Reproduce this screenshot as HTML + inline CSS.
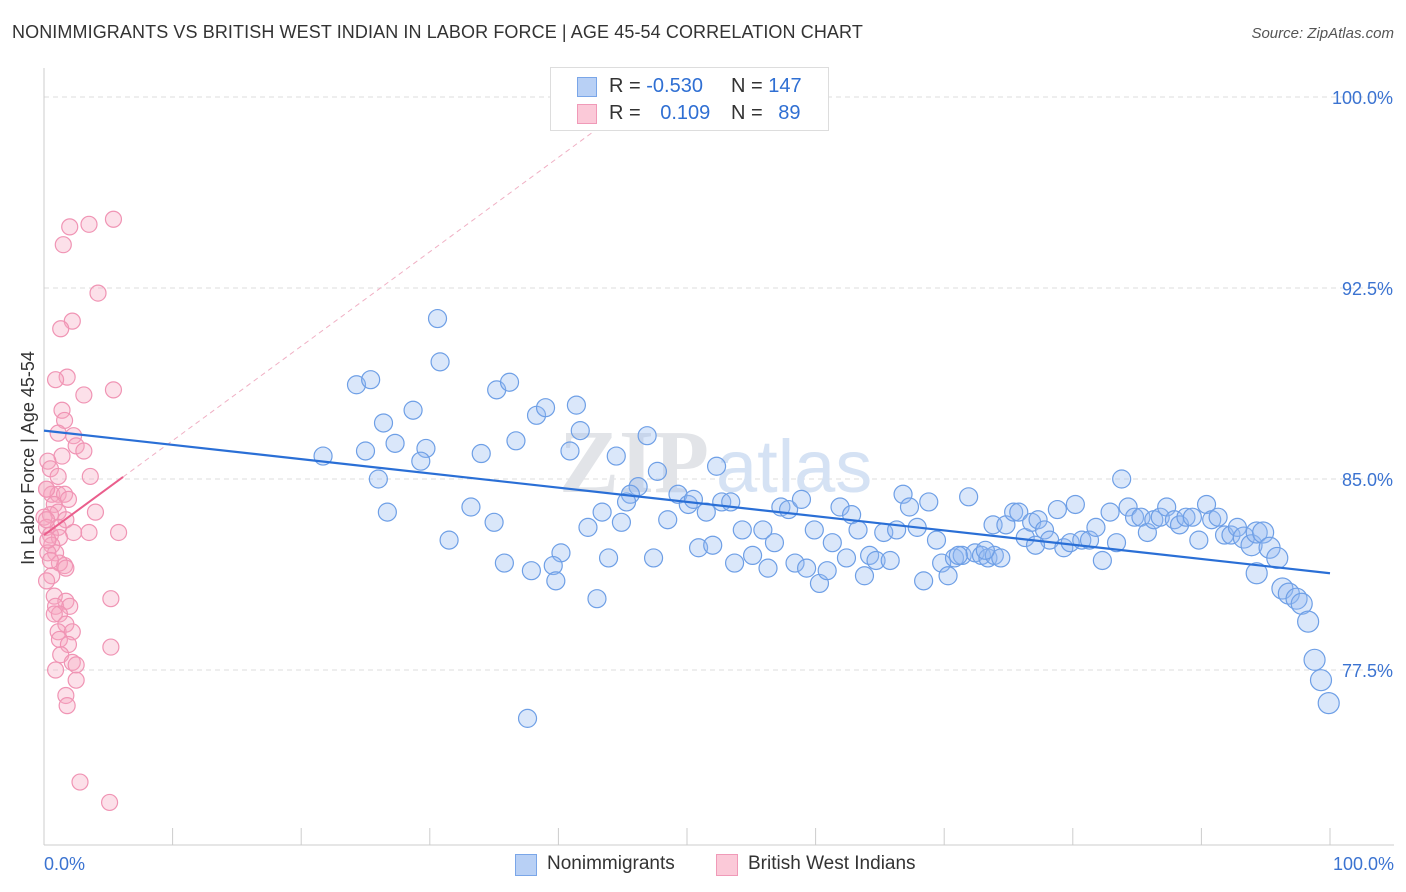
<!DOCTYPE html>
<html><head><meta charset="utf-8">
<style>
body{margin:0;background:#fff;font-family:"Liberation Sans",sans-serif;}
#wrap{position:relative;width:1406px;height:892px;overflow:hidden;}
.t{position:absolute;white-space:nowrap;}
</style></head>
<body>
<div id="wrap">
<div class="t" style="left:12px;top:22px;font-size:18px;color:#333;letter-spacing:0.1px">NONIMMIGRANTS VS BRITISH WEST INDIAN IN LABOR FORCE | AGE 45-54 CORRELATION CHART</div>
<div class="t" style="right:12px;top:25px;font-size:15px;color:#555;font-style:italic">Source: ZipAtlas.com</div>
<svg id="svg" width="1406" height="892" style="position:absolute;left:0;top:0"></svg>
</div>
<script>
const yTicks=[100,92.5,85,77.5];
const yTickLabels=["100.0%","92.5%","85.0%","77.5%"];
const xTickLabels=["0.0%","100.0%"];
const blueX=[30.6,30.8,24.3,25.4,35.2,36.2,26.4,28.7,27.3,29.7,29.3,25.0,21.7,26.0,26.7,31.5,33.2,34.0,35.0,36.7,38.3,39.0,41.4,41.7,40.9,44.5,46.9,47.7,46.2,45.6,45.3,43.4,42.3,44.9,35.8,37.9,40.2,39.6,39.8,43.0,43.9,47.4,37.6,48.5,49.3,50.1,51.5,50.5,52.3,52.7,53.4,50.9,52.0,53.7,54.3,55.1,55.9,56.8,56.3,57.3,57.9,58.9,58.4,59.3,59.9,60.3,60.9,61.3,61.9,62.4,62.8,63.3,63.8,64.2,64.7,65.3,65.8,66.3,66.8,67.3,67.9,68.4,68.8,69.4,69.8,70.3,70.8,71.4,71.9,72.4,72.9,73.4,73.9,74.4,73.8,74.8,75.4,75.8,76.3,76.8,77.3,77.8,78.2,78.8,79.3,79.8,80.2,80.7,81.3,81.8,82.3,82.9,83.4,83.8,84.3,84.8,85.3,85.8,86.3,86.8,87.3,87.9,88.3,88.8,89.3,89.8,90.4,90.8,91.3,91.8,92.3,92.8,93.3,93.9,94.3,94.8,95.3,95.9,94.3,96.3,96.8,97.4,97.8,98.3,98.8,99.3,99.9,77.1,73.2,71.1];
const blueY=[91.3,89.6,88.7,88.9,88.5,88.8,87.2,87.7,86.4,86.2,85.7,86.1,85.9,85.0,83.7,82.6,83.9,86.0,83.3,86.5,87.5,87.8,87.9,86.9,86.1,85.9,86.7,85.3,84.7,84.4,84.1,83.7,83.1,83.3,81.7,81.4,82.1,81.6,81.0,80.3,81.9,81.9,75.6,83.4,84.4,84.0,83.7,84.2,85.5,84.1,84.1,82.3,82.4,81.7,83.0,82.0,83.0,82.5,81.5,83.9,83.8,84.2,81.7,81.5,83.0,80.9,81.4,82.5,83.9,81.9,83.6,83.0,81.2,82.0,81.8,82.9,81.8,83.0,84.4,83.9,83.1,81.0,84.1,82.6,81.7,81.2,81.9,82.0,84.3,82.1,82.0,81.9,82.0,81.9,83.2,83.2,83.7,83.7,82.7,83.3,83.4,83.0,82.6,83.8,82.3,82.5,84.0,82.6,82.6,83.1,81.8,83.7,82.5,85.0,83.9,83.5,83.5,82.9,83.4,83.5,83.9,83.4,83.2,83.5,83.5,82.6,84.0,83.4,83.5,82.8,82.8,83.1,82.7,82.4,82.9,82.9,82.3,81.9,81.3,80.7,80.5,80.3,80.1,79.4,77.9,77.1,76.2,82.4,82.2,82.0];
const pinkX=[5.4,3.5,2.0,1.5,4.2,2.2,1.3,1.8,0.9,5.4,3.1,1.4,1.6,1.1,2.3,2.5,3.1,1.4,0.3,0.5,1.1,3.6,0.2,0.6,1.1,1.6,1.9,0.8,1.1,4.0,0.5,0.0,1.7,0.2,1.1,2.3,5.8,3.5,0.5,1.2,0.6,0.9,0.3,1.6,1.2,0.6,1.7,0.8,1.7,0.9,2.0,1.2,5.2,0.8,1.7,1.1,2.2,1.2,1.9,5.2,1.3,2.2,2.5,0.9,2.5,1.7,1.8,2.8,5.1,0.2,0.2,0.3,0.5,0.2];
const pinkY=[95.2,95.0,94.9,94.2,92.3,91.2,90.9,89.0,88.9,88.5,88.3,87.7,87.3,86.8,86.7,86.3,86.1,85.9,85.7,85.4,85.1,85.1,84.6,84.4,84.4,84.4,84.2,84.0,83.7,83.7,83.6,83.5,83.4,83.1,83.1,82.9,82.9,82.9,82.8,82.7,82.4,82.1,82.1,81.6,81.7,81.2,81.5,80.4,80.2,80.0,80.0,79.7,80.3,79.7,79.3,79.0,79.0,78.7,78.5,78.4,78.1,77.8,77.7,77.5,77.1,76.5,76.1,73.1,72.3,84.6,83.4,82.6,81.8,81.0];
const blueTrendX=[0,100], blueTrendY=[86.9,81.3];
const pinkTrendX=[0,6.15], pinkTrendY=[82.8,85.08];

const svg=document.getElementById('svg');
const NS='http://www.w3.org/2000/svg';
const X0=44,X1=1330,Y0=97,YPX=191/7.5;
function xs(v){return X0+(X1-X0)*v/100;}
function ys(v){return Y0+(100-v)*YPX;}
function mk(tag,attrs,parent){const e=document.createElementNS(NS,tag);for(const k in attrs)e.setAttribute(k,attrs[k]);(parent||svg).appendChild(e);return e;}

yTicks.forEach((t,i)=>{
  const g=mk('line',{x1:44,x2:1394,y1:ys(t),y2:ys(t),stroke:'#ddd','stroke-dasharray':'5,4','stroke-width':1});
  
  
  const tx=mk('text',{x:1393,y:ys(t)+7,'text-anchor':'end','font-size':18,fill:'#3b73d1','font-family':'Liberation Sans, sans-serif'});
  tx.textContent=yTickLabels[i];
  
  
});
const ax=mk('line',{x1:44,x2:1394,y1:845,y2:845,stroke:'#ccc','stroke-width':1});


const ay=mk('line',{x1:44,x2:44,y1:68,y2:845,stroke:'#ccc','stroke-width':1});


for(let i=0;i<=10;i++){
  const tk=mk('line',{x1:xs(i*10),x2:xs(i*10),y1:828,y2:845,stroke:'#ccc','stroke-width':1});
  
  
}
[[0,'start',44],[100,'end',1394]].forEach((a,i)=>{
  const tx=mk('text',{x:a[2],y:870,'text-anchor':a[1],'font-size':18,fill:'#3b73d1','font-family':'Liberation Sans, sans-serif'});
  tx.textContent=xTickLabels[i];
  
  
});
const yt=mk('text',{x:0,y:0,transform:'translate(34,458) rotate(-90)','text-anchor':'middle','font-size':18,fill:'#333','font-family':'Liberation Sans, sans-serif'});
yt.textContent='In Labor Force | Age 45-54';


const wm=mk('text',{x:634,y:492,'text-anchor':'middle','font-size':90,fill:'#e2e4e8','font-family':'Liberation Serif, serif','font-weight':'bold'});
wm.textContent='ZIP';


const wm2=mk('text',{x:716,y:492,'font-size':74,fill:'#d5e2f4','font-family':'Liberation Sans, sans-serif'});
wm2.textContent='atlas';



const slope=(pinkTrendY[1]-pinkTrendY[0])/(pinkTrendX[1]-pinkTrendX[0]);
const xEnd=pinkTrendX[1]+(100-pinkTrendY[1])/slope;
const pd=mk('line',{x1:xs(pinkTrendX[1]),y1:ys(pinkTrendY[1]),x2:xs(xEnd),y2:ys(100),stroke:'#f0b0c4','stroke-dasharray':'5,4','stroke-width':1});



for(let i=0;i<pinkX.length;i++){
  const c=mk('circle',{cx:xs(pinkX[i]),cy:ys(pinkY[i]),r:8,fill:'rgba(246,165,192,0.35)',stroke:'#f094b4','stroke-width':1.2});
  
  
}
for(let i=0;i<blueX.length;i++){
  const r=blueX[i]>93?10.5:9;
  const c=mk('circle',{cx:xs(blueX[i]),cy:ys(blueY[i]),r:r,fill:'rgba(150,186,240,0.35)',stroke:'#6e9fe6','stroke-width':1.2});
  
  
}
const bl=mk('line',{x1:xs(blueTrendX[0]),y1:ys(blueTrendY[0]),x2:xs(blueTrendX[1]),y2:ys(blueTrendY[1]),stroke:'#2a6fd6','stroke-width':2.2});


const pl=mk('line',{x1:xs(pinkTrendX[0]),y1:ys(pinkTrendY[0]),x2:xs(pinkTrendX[1]),y2:ys(pinkTrendY[1]),stroke:'#ea5e8c','stroke-width':2});


</script>

<div style="position:absolute;left:550px;top:67px;width:277px;height:62px;border:1px solid #ddd;background:#fff;font-size:20px;color:#333">
  <div style="position:absolute;left:26px;top:9px;width:18px;height:18px;background:#b8d0f5;border:1px solid #7aa6e8"></div>
  <div class="t" style="left:58px;top:7px">R = <span style="color:#2f6fd3">-0.530</span></div>
  <div class="t" style="left:180px;top:7px">N = <span style="color:#2f6fd3">147</span></div>
  <div style="position:absolute;left:26px;top:36px;width:18px;height:18px;background:#fbc9d8;border:1px solid #f09ab8"></div>
  <div class="t" style="left:58px;top:34px">R = <span style="color:#2f6fd3;margin-left:14px">0.109</span></div>
  <div class="t" style="left:180px;top:34px">N = <span style="color:#2f6fd3;margin-left:10px">89</span></div>
</div>

<div style="position:absolute;left:515px;top:853px;font-size:19px;color:#333">
  <div style="position:absolute;left:0;top:1px;width:20px;height:20px;background:#b8d0f5;border:1px solid #7aa6e8"></div>
  <div class="t" style="left:32px;top:0">Nonimmigrants</div>
</div>
<div style="position:absolute;left:716px;top:853px;font-size:19px;color:#333">
  <div style="position:absolute;left:0;top:1px;width:20px;height:20px;background:#fbc9d8;border:1px solid #f09ab8"></div>
  <div class="t" style="left:32px;top:0">British West Indians</div>
</div>
</body></html>
